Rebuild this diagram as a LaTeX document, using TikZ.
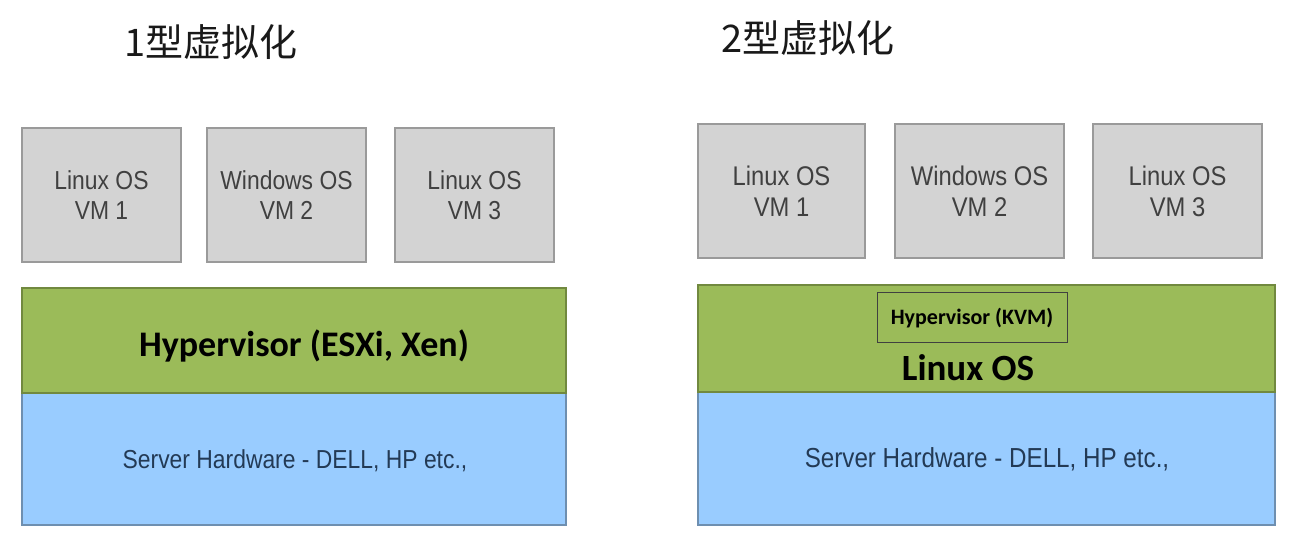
\documentclass[tikz,border=0pt]{standalone}
\usepackage{fontspec}
\setmainfont{Liberation Sans}
\newfontfamily\narrowfont{Liberation Sans}[FakeStretch=0.88]
\newfontfamily\cjk{Noto Sans CJK SC}
\newfontfamily\carlitofont{Carlito}
\definecolor{vmfill}{HTML}{D3D3D3}
\definecolor{vmdraw}{HTML}{9A9A9A}
\definecolor{vmtext}{HTML}{404040}
\definecolor{hypfill}{HTML}{9BBB59}
\definecolor{hypdraw}{HTML}{71893F}
\definecolor{hwfill}{HTML}{99CCFF}
\definecolor{hwdraw}{HTML}{6E8FB0}
\definecolor{hwtext}{HTML}{233A55}
\tikzset{
  vmbox/.style={draw=vmdraw, line width=1.5pt, fill=vmfill, inner sep=0pt, align=center,
    text=vmtext, font=\narrowfont\fontsize{26}{30}\selectfont},
  hypbox/.style={draw=hypdraw, line width=1.5pt, fill=hypfill, inner sep=0pt},
  hwbox/.style={draw=hwdraw, line width=1.5pt, fill=hwfill, inner sep=0pt},
  hwlabel/.style={text=hwtext, font=\narrowfont\fontsize{26}{30}\selectfont},
  title/.style={font=\cjk\fontsize{38}{42}\selectfont, text=black!90, anchor=west, inner sep=0pt},
}
\begin{document}
\begin{tikzpicture}[x=1pt,y=-1pt]
\useasboundingbox[fill=white] (0,0) rectangle (1293,534);
% titles
\node[title] (t1) at (124,42) {1型虚拟化};
\node[title] (t2) at (721,38) {2型虚拟化};
% left
\node[vmbox, minimum width=159pt, minimum height=134pt] (l1) at (101.5,195) {Linux OS\\VM 1};
\node[vmbox, minimum width=159pt, minimum height=134pt] (l2) at (286.5,195) {Windows OS\\VM 2};
\node[vmbox, minimum width=159pt, minimum height=134pt] (l3) at (474.5,195) {Linux OS\\VM 3};
\draw[hwbox] (22,393) rectangle (566,525);
\draw[hypbox] (22,288) rectangle (566,393);
\node[font=\carlitofont\bfseries\fontsize{36}{40}\selectfont] (lh) at (304,346) {Hypervisor (ESXi, Xen)};
\node[hwlabel] (lw) at (295,461) {Server Hardware - DELL, HP etc.,};
% right
\node[vmbox, minimum width=167pt, minimum height=134pt, font=\narrowfont\fontsize{27}{31}\selectfont] (r1) at (781.5,191) {Linux OS\\VM 1};
\node[vmbox, minimum width=169pt, minimum height=134pt, font=\narrowfont\fontsize{27}{31}\selectfont] (r2) at (979.5,191) {Windows OS\\VM 2};
\node[vmbox, minimum width=169pt, minimum height=134pt, font=\narrowfont\fontsize{27}{31}\selectfont] (r3) at (1177.5,191) {Linux OS\\VM 3};
\draw[hwbox] (698,392) rectangle (1275,525);
\draw[hypbox] (698,285) rectangle (1275,392);
\node[draw=black!75, line width=1pt, minimum width=190pt, minimum height=50pt, inner sep=0pt,
  font=\carlitofont\bfseries\fontsize{22}{26}\selectfont] (kvm) at (972,318) {Hypervisor (KVM)};
\node[font=\carlitofont\bfseries\fontsize{37}{42}\selectfont] (ros) at (968,368) {Linux OS};
\node[hwlabel, font=\narrowfont\fontsize{27.5}{32}\selectfont] (rw) at (987,459) {Server Hardware - DELL, HP etc.,};
\end{tikzpicture}
\end{document}
